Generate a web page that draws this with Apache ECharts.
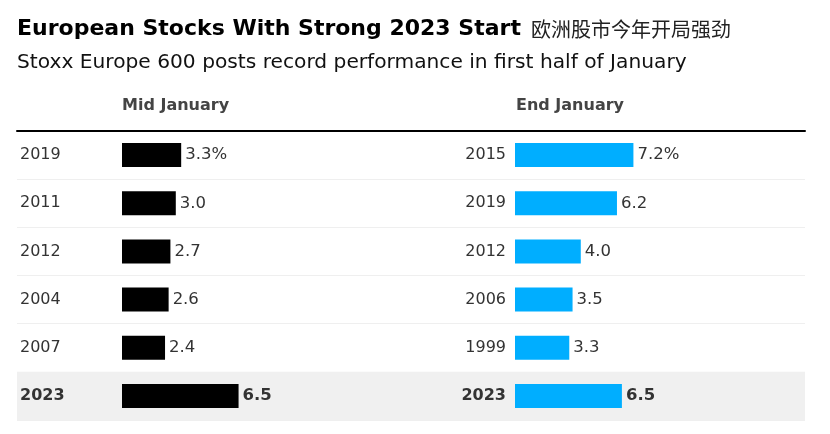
<!DOCTYPE html>
<html>
<head>
<meta charset="utf-8">
<script src="https://cdn.jsdelivr.net/npm/echarts@6/dist/echarts.min.js"></script>
<style>
html,body{margin:0;padding:0;background:#fff;}
#c{width:830px;height:434px;}
</style>
</head>
<body>
<div id="c"></div>
<script>
const midYears = ['2019', '2011', '2012', '2004', '2007', '2023'];
const midValues = [3.3, 3.0, 2.7, 2.6, 2.4, 6.5];
const endYears = ['2015', '2019', '2012', '2006', '1999', '2023'];
const endValues = [7.2, 6.2, 4.0, 3.5, 3.3, 6.5];
const highlightRow = [0, 0, 0, 0, 0, 1];
const titleText = 'European Stocks With Strong 2023 Start';
const titleCn = '欧洲股市今年开局强劲';
const subtitleText = 'Stoxx Europe 600 posts record performance in first half of January';
const headers = ['Mid January', 'End January'];

const FONT = '"DejaVu Sans", "Liberation Sans", Arial, sans-serif';
const chart = echarts.init(document.getElementById('c'), null, {renderer: 'canvas'});

function catData(years, align) {
  return years.map((y, i) => highlightRow[i]
    ? {value: y, textStyle: {fontWeight: 'bold', color: '#333', align: align, fontFamily: FONT, fontSize: 16}}
    : y);
}
function barData(vals) {
  return vals.map((v, i) => highlightRow[i]
    ? {value: v, label: {fontWeight: 'bold'}}
    : v);
}
const labelCommon = {
  show: true, position: 'right', distance: 4,
  fontFamily: FONT, fontSize: 16.5, color: '#333',
  formatter: p => p.value.toFixed(1) + (p.dataIndex === 0 ? '%' : '')
};

const option = {
  animation: false,
  backgroundColor: '#fff',
  title: [
    {
      left: 12, top: 13,
      text: '{b|' + titleText + '}  {c|' + titleCn + '}',
      textStyle: {
        rich: {
          b: {fontFamily: FONT, fontSize: 22, fontWeight: 'bold', color: '#000'},
          c: {fontFamily: '"Noto Sans CJK SC", sans-serif', fontSize: 20, fontWeight: 'normal', color: '#222'}
        }
      }
    },
    {
      left: 12, top: 48,
      text: subtitleText,
      textStyle: {fontFamily: FONT, fontSize: 20.2, fontWeight: 'normal', color: '#111'}
    },
    {
      left: 117, top: 93,
      text: headers[0],
      textStyle: {fontFamily: FONT, fontSize: 16, fontWeight: 'bold', color: '#444'}
    },
    {
      left: 511, top: 93,
      text: headers[1],
      textStyle: {fontFamily: FONT, fontSize: 16, fontWeight: 'bold', color: '#444'}
    }
  ],
  grid: [
    {left: 17, right: 25, top: 131, height: 289, outerBoundsMode: 'none', containLabel: false},
    {left: 122, width: 269, top: 131, height: 289, outerBoundsMode: 'none', containLabel: false},
    {left: 515, width: 246.7, top: 131, height: 289, outerBoundsMode: 'none', containLabel: false}
  ],
  xAxis: [
    {gridIndex: 0, type: 'value', min: 0, max: 1, position: 'top',
     axisLine: {show: true, onZero: false, lineStyle: {color: '#000', width: 2}},
     axisTick: {show: false}, axisLabel: {show: false}, splitLine: {show: false}},
    {gridIndex: 1, type: 'value', min: 0, max: 15, show: false},
    {gridIndex: 2, type: 'value', min: 0, max: 15, show: false}
  ],
  yAxis: [
    {gridIndex: 0, type: 'category', inverse: true, data: midYears,
     axisLine: {show: false}, axisTick: {show: false}, axisLabel: {show: false},
     splitLine: {show: true, lineStyle: {color: '#efefef', width: 1}}},
    {gridIndex: 1, type: 'category', inverse: true, data: catData(midYears, 'left'),
     axisLine: {show: false}, axisTick: {show: false},
     axisLabel: {margin: 102, align: 'left', fontFamily: FONT, fontSize: 16, color: '#333'}},
    {gridIndex: 2, type: 'category', inverse: true, data: catData(endYears, 'right'),
     axisLine: {show: false}, axisTick: {show: false},
     axisLabel: {margin: 9, align: 'right', fontFamily: FONT, fontSize: 16, color: '#333'}}
  ],
  series: [
    {type: 'bar', xAxisIndex: 0, yAxisIndex: 0, data: highlightRow,
     barWidth: '100%', silent: true, z: 0,
     itemStyle: {color: '#f0f0f0'}},
    {type: 'bar', xAxisIndex: 1, yAxisIndex: 1, data: barData(midValues),
     barWidth: 24, itemStyle: {color: '#000'}, label: labelCommon, z: 3},
    {type: 'bar', xAxisIndex: 2, yAxisIndex: 2, data: barData(endValues),
     barWidth: 24, itemStyle: {color: '#00aeff'}, label: labelCommon, z: 3}
  ]
};
chart.setOption(option);
</script>
</body>
</html>
